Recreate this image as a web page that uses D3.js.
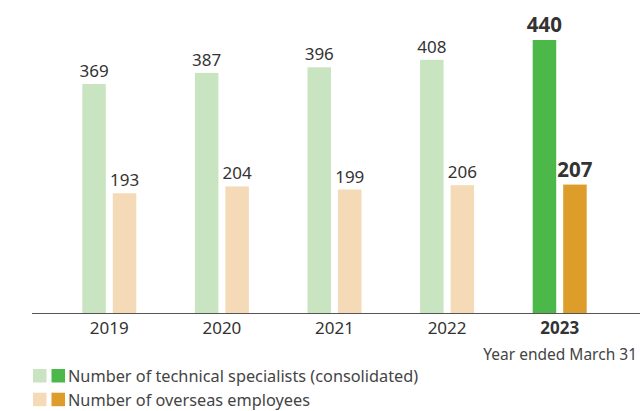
<!DOCTYPE html>
<html><head><meta charset="utf-8">
<script src="https://cdn.jsdelivr.net/npm/d3@7"></script>
<style>body{margin:0;background:#fff}svg{display:block;font-family:"Noto Sans",sans-serif}</style>
</head><body><svg id="c" width="640" height="411"></svg>
<script>
const years = ["2019","2020","2021","2022","2023"];
const specialists = [369,387,396,408,440];
const overseas = [193,204,199,206,207];
const seriesNames = ["Number of technical specialists (consolidated)","Number of overseas employees"];
const lightColors = ["#c9e4c0","#f4dab6"];
const darkColors = ["#4cb84a","#dc9d2a"];

const svg = d3.select("#c");
const x = d3.scaleBand().domain(years).range([53,616]).paddingInner(0).paddingOuter(0);
const y = d3.scaleLinear().domain([0,440]).range([313,40]);
const bw = 23.5, gap = 7;
const series = [specialists, overseas];
const last = years[years.length-1];

series.forEach((vals,si)=>{
  const g = svg.append("g");
  years.forEach((yr,i)=>{
    const cx = x(yr)+x.bandwidth()/2;
    const x0 = si===0 ? cx-gap/2-bw : cx+gap/2;
    const hl = yr===last;
    g.append("rect").attr("x",x0).attr("y",y(vals[i])).attr("width",bw).attr("height",y(0)-y(vals[i]))
      .attr("fill", hl?darkColors[si]:lightColors[si]);
    g.append("text").attr("x",x0+bw/2).attr("y",y(vals[i])-(hl?8:7)).attr("text-anchor","middle")
      .attr("font-size",hl?20.5:17).attr("font-weight",hl?"bold":"normal").attr("fill","#333").text(vals[i]);
  });
});

svg.append("line").attr("x1",32).attr("x2",640).attr("y1",313.5).attr("y2",313.5).attr("stroke","#555").attr("stroke-width",1.2);
years.forEach(yr=>{
  svg.append("text").attr("x",x(yr)+x.bandwidth()/2).attr("y",333.5).attr("text-anchor","middle")
    .attr("font-size",17).attr("font-weight",yr===last?"bold":"normal").attr("fill","#333").text(yr);
});
svg.append("text").attr("x",637).attr("y",360).attr("text-anchor","end").attr("font-size",15.5).attr("fill","#444").text("Year ended March 31");

seriesNames.forEach((n,i)=>{
  const yy = 369 + i*23.7;
  svg.append("rect").attr("x",33).attr("y",yy).attr("width",13.5).attr("height",13.5).attr("fill",lightColors[i]);
  svg.append("rect").attr("x",51.5).attr("y",yy).attr("width",13.5).attr("height",13.5).attr("fill",darkColors[i]);
  svg.append("text").attr("x",68).attr("y",yy+13).attr("font-size",16.3).attr("fill","#444").text(n);
});
</script></body></html>
